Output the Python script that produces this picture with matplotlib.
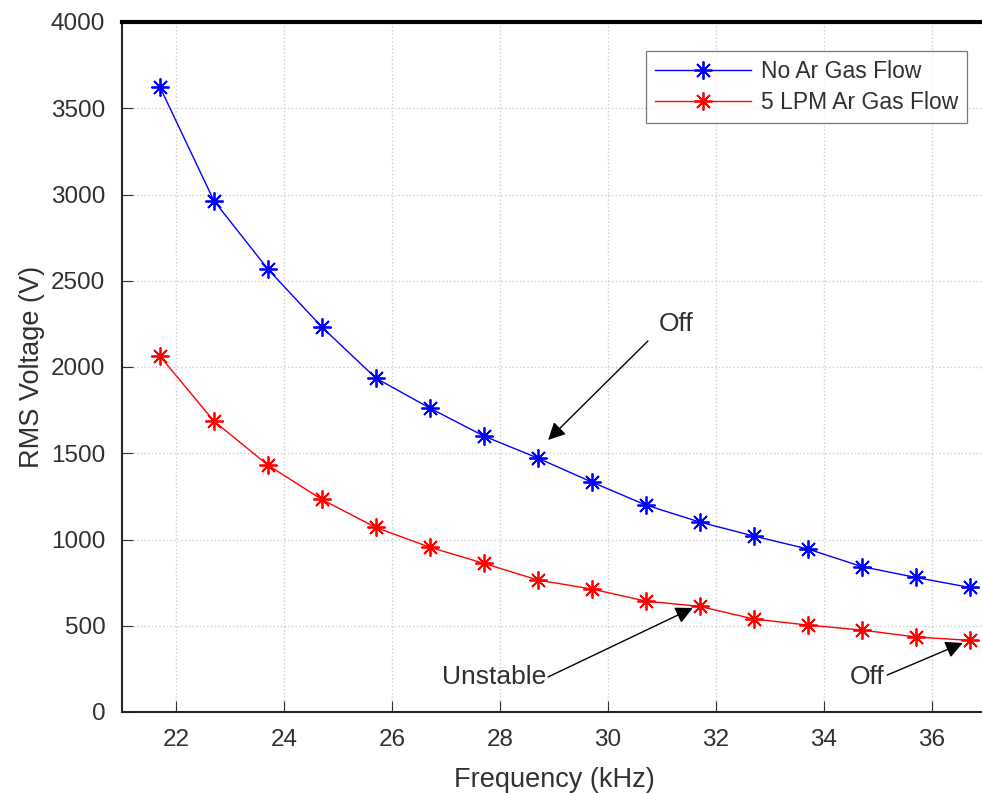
import matplotlib
matplotlib.use("Agg")
import matplotlib.pyplot as plt

freq = [21.7, 22.7, 23.7, 24.7, 25.7, 26.7, 27.7, 28.7, 29.7, 30.7, 31.7, 32.7, 33.7, 34.7, 35.7, 36.7]
no_ar = [3625, 2965, 2568, 2232, 1936, 1762, 1600, 1472, 1333, 1200, 1101, 1020, 945, 843, 780, 722]
ar_5lpm = [2064, 1687, 1432, 1232, 1070, 955, 862, 765, 713, 643, 612, 539, 504, 475, 435, 415]

xticks = [22, 24, 26, 28, 30, 32, 34, 36]
yticks = [0, 500, 1000, 1500, 2000, 2500, 3000, 3500, 4000]

plt.rcParams['font.family'] = ['Liberation Sans', 'DejaVu Sans']

TXT = '#303030'
fig = plt.figure(figsize=(9.82, 7.93), dpi=100)
ax = fig.add_axes([122/982, 1 - 712/793, (986 - 122)/982, (712 - 22)/793])

ast = (8, 2, 0)
ax.plot(freq, no_ar, color='#0000ff', marker=ast, markersize=13, linewidth=1.0,
        markeredgewidth=1.3, label='No Ar Gas Flow')
ax.plot(freq, ar_5lpm, color='#ff0000', marker=ast, markersize=13, linewidth=1.0,
        markeredgewidth=1.3, label='5 LPM Ar Gas Flow')

ax.set_xlim(21, 37)
ax.set_ylim(0, 4000)
ax.set_xticks(xticks)
ax.set_yticks(yticks)
ax.tick_params(labelsize=17.5, colors=TXT, direction='in', length=8, pad=12)
ax.grid(True, color='#cccccc', linestyle=':', linewidth=1.0)

for s in ['left', 'bottom']:
    ax.spines[s].set_linewidth(1.5)
    ax.spines[s].set_color('#262626')
ax.spines['top'].set_linewidth(3)
ax.spines['top'].set_color('black')
ax.spines['right'].set_visible(False)

ax.set_xlabel('Frequency (kHz)', fontsize=19.5, color=TXT, labelpad=12)
ax.set_ylabel('RMS Voltage (V)', fontsize=19.5, color=TXT, labelpad=4)

leg = ax.legend(loc='upper right', bbox_to_anchor=((967 - 122)/864, 1 - (51 - 22)/690),
                fontsize=16.5, frameon=True, fancybox=False, edgecolor='#555555',
                borderpad=0.4, handlelength=4.2, handletextpad=0.4, labelspacing=0.35,
                borderaxespad=0)
leg.get_frame().set_linewidth(0.9)
for t in leg.get_texts():
    t.set_color(TXT)

arrow = dict(arrowstyle='-|>', color='black', lw=1.0, mutation_scale=26, shrinkA=0, shrinkB=0)
# text labels
ax.text(31.26, 2250, 'Off', fontsize=19, color=TXT, ha='center', va='center')
ax.text(27.9, 200, 'Unstable', fontsize=19, color=TXT, ha='center', va='center')
ax.text(34.8, 205, 'Off', fontsize=19, color=TXT, ha='center', va='center')
# arrows (tail -> head)
ax.annotate('', xy=(28.89, 1577), xytext=(30.74, 2151), arrowprops=arrow)
ax.annotate('', xy=(31.57, 603), xytext=(28.89, 203), arrowprops=arrow)
ax.annotate('', xy=(36.57, 400), xytext=(35.17, 214), arrowprops=arrow)

fig.savefig('out.png', dpi=100)
